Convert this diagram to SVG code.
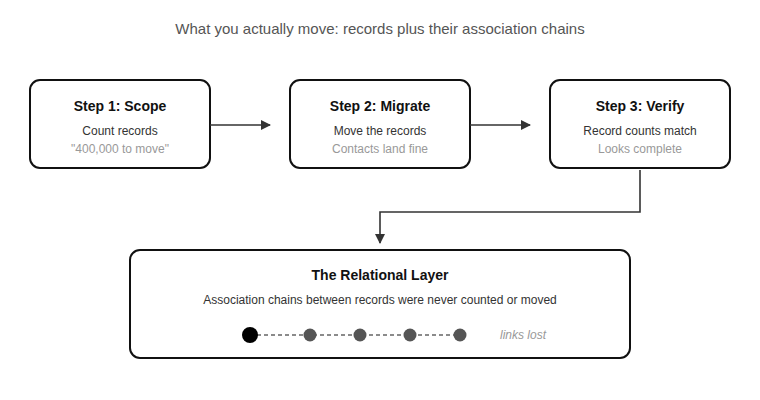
<svg xmlns="http://www.w3.org/2000/svg" width="760" height="400" viewBox="0 0 760 400">
<style>
text{font-family:"Liberation Sans",Arial,sans-serif;text-anchor:middle}
.box{fill:#fff;stroke:#111;stroke-width:2}
.t{font-size:14px;font-weight:bold;fill:#111}
.s{font-size:12px;fill:#333}
.g{font-size:12px;fill:#999}
.c{stroke:#333;stroke-width:1.6;fill:none}
</style>
<defs><marker id="a" markerWidth="10" markerHeight="10" refX="9" refY="5" orient="auto" markerUnits="userSpaceOnUse"><path d="M0,0L10,5L0,10z" fill="#333"/></marker></defs>
<rect width="760" height="400" fill="#fff"/>
<text x="380" y="34" style="font-size:15px;fill:#555">What you actually move: records plus their association chains</text>
<g id="step1"><rect class="box" x="30" y="80" width="180" height="88" rx="10"/><text class="t" x="120" y="111">Step 1: Scope</text><text class="s" x="120" y="135">Count records</text><text class="g" x="120" y="153">"400,000 to move"</text></g>
<g id="step2"><rect class="box" x="290" y="80" width="180" height="88" rx="10"/><text class="t" x="380" y="111">Step 2: Migrate</text><text class="s" x="380" y="135">Move the records</text><text class="g" x="380" y="153">Contacts land fine</text></g>
<g id="step3"><rect class="box" x="550" y="80" width="180" height="88" rx="10"/><text class="t" x="640" y="111">Step 3: Verify</text><text class="s" x="640" y="135">Record counts match</text><text class="g" x="640" y="153">Looks complete</text></g>
<g id="layer"><rect class="box" x="130" y="250" width="500" height="108" rx="10"/><text class="t" x="380" y="280">The Relational Layer</text><text class="s" x="380" y="304">Association chains between records were never counted or moved</text>
<line x1="250" y1="335" x2="460" y2="335" stroke="#666" stroke-width="1.3" stroke-dasharray="4,3"/>
<circle cx="250" cy="335" r="8" fill="#000"/><circle cx="310" cy="335" r="6.5" fill="#555"/><circle cx="360" cy="335" r="6.5" fill="#555"/><circle cx="410" cy="335" r="6.5" fill="#555"/><circle cx="460" cy="335" r="6.5" fill="#555"/>
<text x="523" y="339" style="font-size:12px;font-style:italic;fill:#999">links lost</text></g>
<g id="connectors">
<path class="c" d="M210,125H270" marker-end="url(#a)"/>
<path class="c" d="M470,125H530" marker-end="url(#a)"/>
<path class="c" d="M640,170V212H380V243" marker-end="url(#a)"/>
</g>
</svg>
